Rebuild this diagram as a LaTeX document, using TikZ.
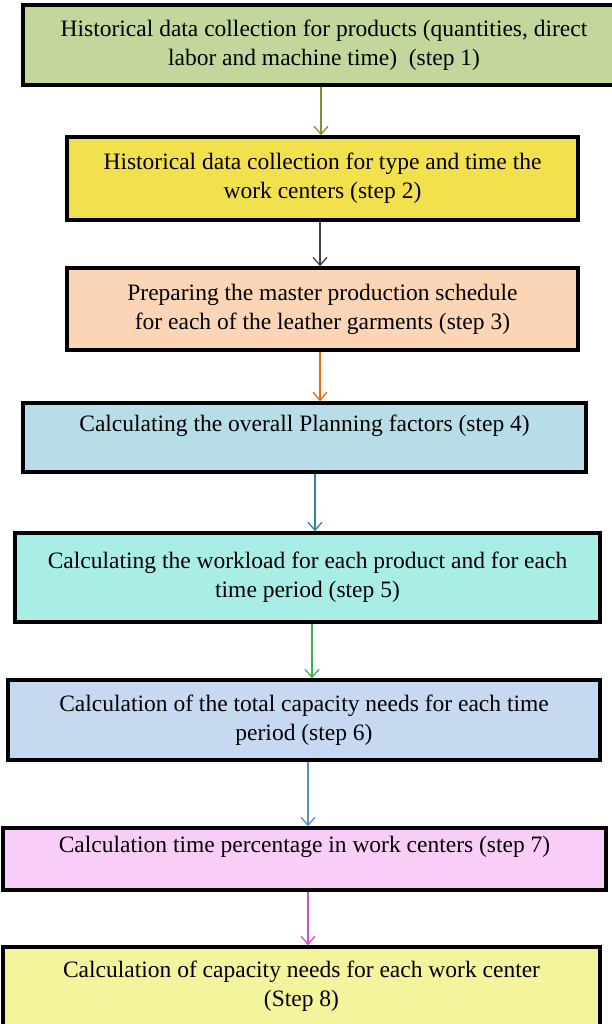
\documentclass[tikz,border=0pt]{standalone}
\usepackage{fontspec}
\setmainfont{Liberation Serif}
\usetikzlibrary{arrows.meta}

\definecolor{fillone}{HTML}{C3D69B}
\definecolor{filltwo}{HTML}{F2E14C}
\definecolor{fillthree}{HTML}{FBD5B5}
\definecolor{fillfour}{HTML}{B7DDE8}
\definecolor{fillfive}{HTML}{A9EEE6}
\definecolor{fillsix}{HTML}{C6D9F1}
\definecolor{fillseven}{HTML}{F8CDF8}
\definecolor{filleight}{HTML}{F4F49C}
\definecolor{arrone}{HTML}{77933C}
\definecolor{arrtwo}{HTML}{404040}
\definecolor{arrthree}{HTML}{E46C0A}
\definecolor{arrfour}{HTML}{31859C}
\definecolor{arrfive}{HTML}{3CB050}
\definecolor{arrsix}{HTML}{558ED5}
\definecolor{arrseven}{HTML}{D050D0}

\tikzset{
  stepbox/.style={draw=black,line width=3.5pt,rectangle,align=center,
    inner sep=0pt,font=\fontsize{23.5}{29}\selectfont},
  flow/.style={line width=1.3pt,-{Straight Barb[length=8pt,width=14pt,line width=1.3pt]}}
}

\begin{document}
\begin{tikzpicture}[x=1pt,y=-1pt]
   \useasboundingbox (0,0) rectangle (612,1024);
   \node[stepbox,fill=fillone,minimum width=602pt,minimum height=80pt] (s1) at (324,45)
      {Historical data collection for products (quantities, direct\\ labor and machine time)\ \ (step 1)};
   \node[stepbox,fill=filltwo,minimum width=511pt,minimum height=83pt] (s2) at (322.5,178.5)
      {Historical data collection for type and time the\\ work centers (step 2)};
   \node[stepbox,fill=fillthree,minimum width=511pt,minimum height=82pt] (s3) at (322.5,309)
      {Preparing the master production schedule\\ for each of the leather garments (step 3)};
   \node[stepbox,fill=fillfour,minimum width=563pt,minimum height=69pt] (s4) at (304.5,437.5)
      {Calculating the overall Planning factors (step 4)\\ \mbox{}};
   \node[stepbox,fill=fillfive,minimum width=585pt,minimum height=89pt] (s5) at (307.5,577.5)
      {Calculating the workload for each product and for each\\ time period (step 5)};
   \node[stepbox,fill=fillsix,minimum width=592pt,minimum height=80pt] (s6) at (304,720)
      {Calculation of the total capacity needs for each time\\ period (step 6)};
   \node[stepbox,fill=fillseven,minimum width=603pt,minimum height=62pt] (s7) at (304.5,859)
      {Calculation time percentage in work centers (step 7)\\ \mbox{}};
   \node[stepbox,fill=filleight,minimum width=597pt,minimum height=102pt] (s8) at (301.5,998)
      {Calculation of capacity needs for each work center\\ (Step 8)\\ \mbox{}};
   % arrows between the steps
   \path[flow]
        ([xshift=-3pt]s1.south) edge[arrone] ([xshift=-3pt]s1.south |- s2.north)
        ([xshift=-2.5pt]s2.south) edge[arrtwo] ([xshift=-2.5pt]s2.south |- s3.north)
        ([xshift=-2.5pt]s3.south) edge[arrthree] ([xshift=-2.5pt]s3.south |- s4.north)
        ([xshift=10.5pt]s4.south) edge[arrfour] ([xshift=10.5pt]s4.south |- s5.north)
        ([xshift=4.5pt]s5.south) edge[arrfive] ([xshift=4.5pt]s5.south |- s6.north)
        ([xshift=4pt]s6.south) edge[arrsix] ([xshift=4pt]s6.south |- s7.north)
        ([xshift=3.5pt]s7.south) edge[arrseven] ([xshift=3.5pt]s7.south |- s8.north)
        ;
\end{tikzpicture}
\end{document}
